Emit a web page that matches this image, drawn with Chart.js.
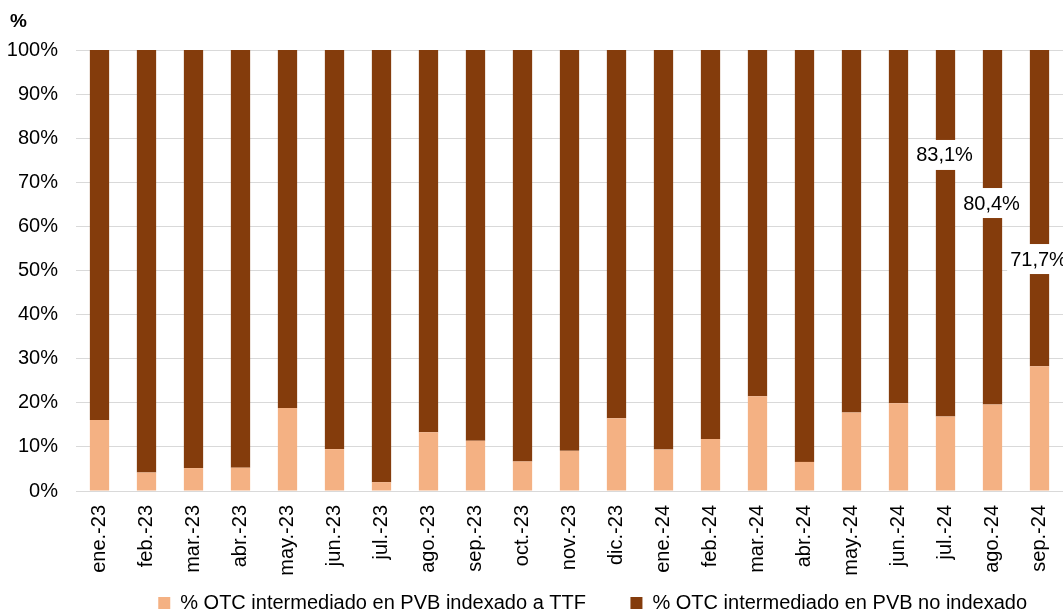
<!DOCTYPE html>
<html>
<head>
<meta charset="utf-8">
<script src="https://cdn.jsdelivr.net/npm/chart.js@4"></script>
<style>
  body { margin: 0; background: #fff; }
  #wrap { width: 1063px; height: 613px; position: relative; }
</style>
</head>
<body>
<div id="wrap"><canvas id="otcChart"></canvas></div>
<script>
const categories = ['ene.-23', 'feb.-23', 'mar.-23', 'abr.-23', 'may.-23', 'jun.-23', 'jul.-23', 'ago.-23',
    'sep.-23', 'oct.-23', 'nov.-23', 'dic.-23', 'ene.-24', 'feb.-24', 'mar.-24', 'abr.-24', 'may.-24',
    'jun.-24', 'jul.-24', 'ago.-24', 'sep.-24'];

// % OTC intermediado en PVB indexado a TTF
const indexedTTF = [16.1, 4.2, 5.2, 5.3, 18.8, 9.5, 2.0, 13.3, 11.4, 6.7, 9.1, 16.5, 9.4, 11.8, 21.5, 6.6, 17.8, 19.9, 16.9, 19.6, 28.3];
// % OTC intermediado en PVB no indexado
const notIndexed = [83.9, 95.8, 94.8, 94.7, 81.2, 90.5, 98.0, 86.7, 88.6, 93.3, 90.9, 83.5, 90.6, 88.2, 78.5, 93.4, 82.2, 80.1, 83.1, 80.4, 71.7];

const yTicks = [0, 10, 20, 30, 40, 50, 60, 70, 80, 90, 100];
const seriesNames = ['% OTC intermediado en PVB indexado a TTF', '% OTC intermediado en PVB no indexado'];
// etiquetas visibles solo en los tres últimos meses
const labelledMonths = ['jul.-24', 'ago.-24', 'sep.-24'];

const FONT = "'Liberation Sans', Arial, sans-serif";

// etiquetas de datos con fondo blanco (serie no indexada)
const valueLabels = {
    id: 'valueLabels',
    afterDatasetsDraw(chart, args, opts) {
        const ctx = chart.ctx;
        const meta = chart.getDatasetMeta(1);
        const y = chart.scales.y;
        ctx.save();
        ctx.font = '20px ' + FONT;
        ctx.textAlign = 'center';
        ctx.textBaseline = 'middle';
        labelledMonths.forEach((m, k) => {
            const i = categories.indexOf(m);
            const text = notIndexed[i].toFixed(1).replace('.', ',') + '%';
            const x = meta.data[i].x;
            const yy = y.getPixelForValue(opts.anchors[k]);
            const w = ctx.measureText(text).width + 8;
            ctx.fillStyle = '#ffffff';
            ctx.fillRect(x - w / 2, yy - 15, w, 30);
            ctx.fillStyle = '#000000';
            ctx.fillText(text, x - 1, yy + 1);
        });
        ctx.restore();
    }
};

// "%" arriba del eje
const unitLabel = {
    id: 'unitLabel',
    afterDraw(chart) {
        const ctx = chart.ctx;
        ctx.save();
        ctx.font = 'bold 19px ' + FONT;
        ctx.fillStyle = '#000';
        ctx.textBaseline = 'top';
        ctx.fillText('%', 10, 12);
        ctx.restore();
    }
};

const ctx = document.getElementById('otcChart').getContext('2d');
new Chart(ctx, {
    type: 'bar',
    data: {
        labels: categories,
        datasets: [
            {
                label: seriesNames[0],
                data: indexedTTF,
                backgroundColor: '#F4B183',
                barPercentage: 0.41,
                categoryPercentage: 1
            },
            {
                label: seriesNames[1],
                data: notIndexed,
                backgroundColor: '#843C0C',
                barPercentage: 0.41,
                categoryPercentage: 1
            }
        ]
    },
    options: {
        responsive: true,
        maintainAspectRatio: false,
        animation: false,
        layout: { padding: { top: 50, right: -3, left: 0, bottom: -10 } },
        plugins: {
            legend: {
                position: 'bottom',
                align: 'end',
                labels: {
                    boxWidth: 12,
                    boxHeight: 12,
                    padding: 0,
                    color: '#000',
                    font: { family: FONT, size: 20 },
                    generateLabels(chart) {
                        const items = Chart.defaults.plugins.legend.labels.generateLabels(chart);
                        items[0].text += '        ';
                        items[1].text += '       ';
                        return items;
                    }
                }
            },
            tooltip: { enabled: false },
            valueLabels: { anchors: [76.2, 65.3, 52.6] }
        },
        scales: {
            x: {
                stacked: true,
                grid: { display: false },
                border: { color: '#d9d9d9', width: 1 },
                ticks: {
                    color: '#000',
                    font: { family: FONT, size: 20 },
                    minRotation: 90,
                    maxRotation: 90,
                    padding: 6,
                    autoSkip: false
                },
                afterFit(scale) {
                    scale.height = 102;
                    scale.paddingLeft = 0;
                    scale.paddingRight = 0;
                }
            },
            y: {
                stacked: true,
                min: 0,
                max: 100,
                afterBuildTicks(scale) { scale.ticks = yTicks.map(v => ({ value: v })); },
                grid: { color: '#d9d9d9', drawTicks: false },
                border: { display: false },
                ticks: {
                    color: '#000',
                    font: { family: FONT, size: 20 },
                    padding: 18,
                    callback: v => v + '%'
                },
                afterFit(scale) { scale.width = 76; }
            }
        }
    },
    plugins: [valueLabels, unitLabel]
});
</script>
</body>
</html>
